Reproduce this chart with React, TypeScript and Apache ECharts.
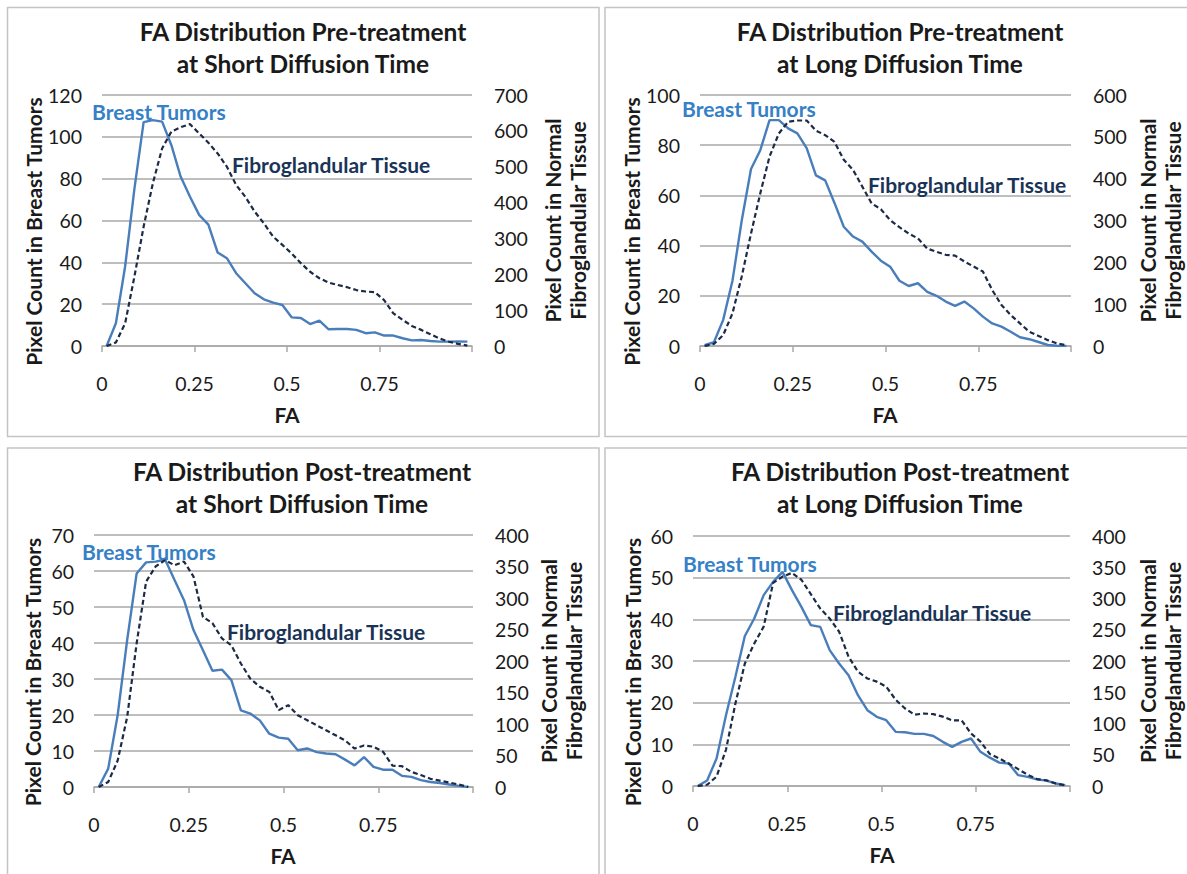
import React, { useEffect, useRef } from "react";
import * as echarts from "echarts";

// FA bin centres (x values)
const FA_BINS = [
  0.0125, 0.0375, 0.0625, 0.0875, 0.1125, 0.1375, 0.1625, 0.1875, 0.2125, 0.2375,
  0.2625, 0.2875, 0.3125, 0.3375, 0.3625, 0.3875, 0.4125, 0.4375, 0.4625, 0.4875,
  0.5125, 0.5375, 0.5625, 0.5875, 0.6125, 0.6375, 0.6625, 0.6875, 0.7125, 0.7375,
  0.7625, 0.7875, 0.8125, 0.8375, 0.8625, 0.8875, 0.9125, 0.9375, 0.9625, 0.9875,
];
const X_TICKS = [0, 0.25, 0.5, 0.75];

// Pre-treatment, short diffusion time
const PRE_SHORT_TUMOR = [
  0, 10.9, 38, 75, 107, 108, 107.3, 96, 81, 71.5, 62.7, 58, 44.7, 42, 34.8, 30, 25.2, 22.3, 20.7, 19.6,
  13.7, 13.4, 10.5, 12.1, 8, 8.1, 8.1, 7.7, 6.1, 6.5, 5, 5, 3.7, 2.7, 2.9, 2.4, 2.1, 2.1, 2.2, 2.1,
];
const PRE_SHORT_FIBRO = [
  0, 10, 63, 193, 333, 454, 551, 598, 610, 619, 593, 567, 537, 500, 449, 416, 375, 342, 305, 282,
  258, 231, 207, 189, 177, 170, 164, 156, 152, 150, 128, 91, 73, 56, 45, 33, 21, 12, 6, 1,
];

// Pre-treatment, long diffusion time
const PRE_LONG_TUMOR = [
  0.3, 1.5, 10.4, 26, 50, 70.5, 78, 90, 90, 86.7, 84.7, 78.8, 68, 66, 57, 47.5, 43.6, 41.6, 37.6, 34,
  31.6, 26, 23.9, 25, 21.6, 20, 17.7, 16, 17.7, 15, 11.7, 9, 7.7, 5.7, 3.5, 2.7, 1.6, 0.4, 0.1, 0,
];
const PRE_LONG_FIBRO = [
  0, 5, 26, 78, 166, 269, 365, 453, 508, 536, 539, 539, 515, 504, 488, 445, 421, 381, 341, 327,
  301, 284, 269, 257, 233, 225, 218, 216, 202, 190, 178, 134, 98, 74, 54, 34, 24, 14, 6, 2,
];

// Post-treatment, short diffusion time
const POST_SHORT_TUMOR = [
  0, 5.1, 20, 40.8, 59.3, 62.4, 62.6, 63.2, 57.5, 51.9, 43.6, 38, 32.3, 32.6, 29.7, 21.3, 20.4, 18.5, 14.8, 13.7,
  13.4, 10.2, 10.7, 9.7, 9.3, 9.1, 7.6, 6, 8.3, 5.6, 4.8, 4.8, 3.1, 2.8, 1.9, 1.4, 1.1, 0.7, 0.3, 0,
];
const POST_SHORT_FIBRO = [
  0, 8, 42, 111, 228, 326, 350, 360, 352, 358, 334, 270, 260, 236, 225, 196, 172, 159, 151, 122,
  130, 114, 106, 98, 90, 82, 74, 61, 66, 64, 56, 34, 33, 24, 19, 13, 10, 7, 4, 0,
];

// Post-treatment, long diffusion time
const POST_LONG_TUMOR = [
  0, 1.3, 6.6, 17, 26.2, 36, 40.2, 45.8, 49, 51.4, 47, 43, 38.6, 38.2, 32.6, 29.4, 26.6, 21.8, 18.2, 16.6,
  15.8, 13, 12.9, 12.5, 12.5, 12, 10.6, 9.4, 10.6, 11.4, 8.2, 6.8, 5.6, 5.4, 2.6, 2.2, 1.6, 1.3, 0.6, 0.2,
];
const POST_LONG_FIBRO = [
  0, 2, 15, 58, 132, 196, 228, 255, 325, 335, 341, 330, 307, 284, 268, 247, 207, 183, 172, 167,
  159, 138, 124, 114, 116, 115, 111, 105, 105, 84, 71, 51, 44, 36, 27, 18, 11, 9, 4, 1,
];

const TITLES = [
  ["FA Distribution Pre-treatment", "at Short Diffusion Time"],
  ["FA Distribution Pre-treatment", "at Long Diffusion Time"],
  ["FA Distribution Post-treatment", "at Short Diffusion Time"],
  ["FA Distribution Post-treatment", "at Long Diffusion Time"],
];
const LEFT_MAX = [120, 100, 70, 60];
const LEFT_STEP = [20, 20, 10, 10];
const RIGHT_MAX = [700, 600, 400, 400];
const RIGHT_STEP = [100, 100, 50, 50];
const TUMOR_DATA = [PRE_SHORT_TUMOR, PRE_LONG_TUMOR, POST_SHORT_TUMOR, POST_LONG_TUMOR];
const FIBRO_DATA = [PRE_SHORT_FIBRO, PRE_LONG_FIBRO, POST_SHORT_FIBRO, POST_LONG_FIBRO];

const X_NAME = "FA";
const LEFT_NAME = "Pixel Count in Breast Tumors";
const RIGHT_NAME = "Pixel Count in Normal\nFibroglandular Tissue";
const TUMOR_LABEL = "Breast Tumors";
const FIBRO_LABEL = "Fibroglandular Tissue";

// Layout (pixels)
const LAYOUT = [
  { grid: { left: 102, top: 95, width: 370, height: 251 }, titleX: 303, titleY: 31, leftNameX: 33, rightNameX: 565,
    tumorLbl: [92, 111], fibroLbl: [232, 164], faX: 287, border: [7.5, 7.5, 591.5, 429] },
  { grid: { left: 700, top: 95, width: 371, height: 251 }, titleX: 900, titleY: 31, leftNameX: 631, rightNameX: 1160,
    tumorLbl: [682, 108], fibroLbl: [868, 184], faX: 885, border: [605, 7.5, 600, 429] },
  { grid: { left: 94, top: 535, width: 379, height: 252 }, titleX: 302, titleY: 471, leftNameX: 32, rightNameX: 561,
    tumorLbl: [82, 551], fibroLbl: [227, 631], faX: 283, border: [7.5, 448, 591.5, 440] },
  { grid: { left: 693, top: 536, width: 377, height: 250 }, titleX: 900, titleY: 471, leftNameX: 632, rightNameX: 1160,
    tumorLbl: [683, 563], fibroLbl: [833, 612], faX: 882, border: [605, 448, 600, 440] },
];

const FONT = "Lato, 'Open Sans', sans-serif";
const GRID_COLOR = "#a8a8a8";
const TUMOR_COLOR = "#4a7ebb";
const FIBRO_COLOR = "#1b2b47";
const TUMOR_TEXT = "#3580c6";
const FIBRO_TEXT = "#1a3457";
const TEXT_COLOR = "#1a1a1a";
const TICK_FS = 19.5;
const NAME_FS = 21;
const TITLE_FS = 24.5;

function buildOption() {
  const grids: any[] = [];
  const xAxes: any[] = [];
  const yAxes: any[] = [];
  const series: any[] = [];
  const graphics: any[] = [];

  LAYOUT.forEach((L, i) => {
    grids.push({ ...L.grid, containLabel: false });
    xAxes.push({
      type: "value",
      gridIndex: i,
      min: 0,
      max: 1,
      interval: 0.25,
      axisLine: { show: true, lineStyle: { color: GRID_COLOR, width: 1.5 } },
      axisTick: { show: true, length: 6, lineStyle: { color: GRID_COLOR, width: 1.5 } },
      splitLine: { show: false },
      axisLabel: {
        margin: 27,
        color: TEXT_COLOR,
        fontFamily: FONT,
        fontSize: TICK_FS,
        formatter: (v: number) => {
          const t = X_TICKS.find((x) => Math.abs(x - v) < 1e-9);
          return t === undefined ? "" : String(t);
        },
      },
    });
    yAxes.push({
      type: "value",
      gridIndex: i,
      position: "left",
      min: 0,
      max: LEFT_MAX[i],
      interval: LEFT_STEP[i],
      axisLine: { show: false },
      axisTick: { show: false },
      splitLine: { show: true, lineStyle: { color: GRID_COLOR, width: 1.5 } },
      axisLabel: { margin: 20, color: TEXT_COLOR, fontFamily: FONT, fontSize: TICK_FS },
    });
    yAxes.push({
      type: "value",
      gridIndex: i,
      position: "right",
      min: 0,
      max: RIGHT_MAX[i],
      interval: RIGHT_STEP[i],
      axisLine: { show: false },
      axisTick: { show: false },
      splitLine: { show: false },
      axisLabel: { margin: 22, color: TEXT_COLOR, fontFamily: FONT, fontSize: TICK_FS },
    });
    series.push({
      type: "line",
      name: TUMOR_LABEL + " " + i,
      xAxisIndex: i,
      yAxisIndex: 2 * i,
      data: FA_BINS.map((x, k) => [x, TUMOR_DATA[i][k]]),
      showSymbol: false,
      symbol: "none",
      lineStyle: { color: TUMOR_COLOR, width: 2.4 },
      z: 3,
    });
    series.push({
      type: "line",
      name: FIBRO_LABEL + " " + i,
      xAxisIndex: i,
      yAxisIndex: 2 * i + 1,
      data: FA_BINS.map((x, k) => [x, FIBRO_DATA[i][k]]),
      showSymbol: false,
      symbol: "none",
      lineStyle: { color: FIBRO_COLOR, width: 2.2, type: [5, 3] },
      z: 4,
    });

    const [bx, by, bw, bh] = L.border;
    graphics.push({
      type: "rect",
      shape: { x: bx, y: by, width: bw, height: bh },
      style: { fill: "none", stroke: "#c4c4c4", lineWidth: 1.5 },
      z: 0,
    });
    const gTop = L.grid.top;
    const gMid = gTop + L.grid.height / 2;
    graphics.push({
      type: "text",
      x: L.titleX,
      y: L.titleY,
      style: { text: TITLES[i][0], fontFamily: FONT, fontSize: TITLE_FS, fontWeight: "bold", fill: TEXT_COLOR, align: "center", verticalAlign: "middle" },
    });
    graphics.push({
      type: "text",
      x: L.titleX,
      y: L.titleY + 32,
      style: { text: TITLES[i][1], fontFamily: FONT, fontSize: TITLE_FS, fontWeight: "bold", fill: TEXT_COLOR, align: "center", verticalAlign: "middle" },
    });
    graphics.push({
      type: "text",
      x: L.leftNameX,
      y: gMid + 11,
      rotation: Math.PI / 2,
      style: { text: LEFT_NAME, fontFamily: FONT, fontSize: NAME_FS, fontWeight: "bold", fill: TEXT_COLOR, align: "center", verticalAlign: "middle" },
    });
    graphics.push({
      type: "text",
      x: L.rightNameX,
      y: gMid,
      rotation: Math.PI / 2,
      style: { text: RIGHT_NAME, fontFamily: FONT, fontSize: NAME_FS, fontWeight: "bold", fill: TEXT_COLOR, align: "center", verticalAlign: "middle", lineHeight: 25 },
    });
    graphics.push({
      type: "text",
      x: L.faX,
      y: gTop + L.grid.height + 68,
      style: { text: X_NAME, fontFamily: FONT, fontSize: NAME_FS, fontWeight: "bold", fill: TEXT_COLOR, align: "center", verticalAlign: "middle" },
    });
    graphics.push({
      type: "text",
      x: L.tumorLbl[0],
      y: L.tumorLbl[1],
      style: { text: TUMOR_LABEL, fontFamily: FONT, fontSize: NAME_FS, fontWeight: "bold", fill: TUMOR_TEXT, align: "left", verticalAlign: "middle" },
      z: 10,
    });
    graphics.push({
      type: "text",
      x: L.fibroLbl[0],
      y: L.fibroLbl[1],
      style: { text: FIBRO_LABEL, fontFamily: FONT, fontSize: NAME_FS, fontWeight: "bold", fill: FIBRO_TEXT, align: "left", verticalAlign: "middle" },
      z: 10,
    });
  });

  return {
    animation: false,
    backgroundColor: "#ffffff",
    grid: grids,
    xAxis: xAxes,
    yAxis: yAxes,
    series,
    graphic: graphics,
  };
}

export default function App() {
  const ref = useRef<HTMLDivElement>(null);
  useEffect(() => {
    if (!ref.current) return;
    const chart = echarts.init(ref.current, null, { renderer: "svg" });
    chart.setOption(buildOption() as any);
    return () => chart.dispose();
  }, []);
  return (
    <div
      ref={ref}
      style={{ position: "absolute", left: 0, top: 0, width: 1187, height: 874, background: "#fff" }}
    />
  );
}
